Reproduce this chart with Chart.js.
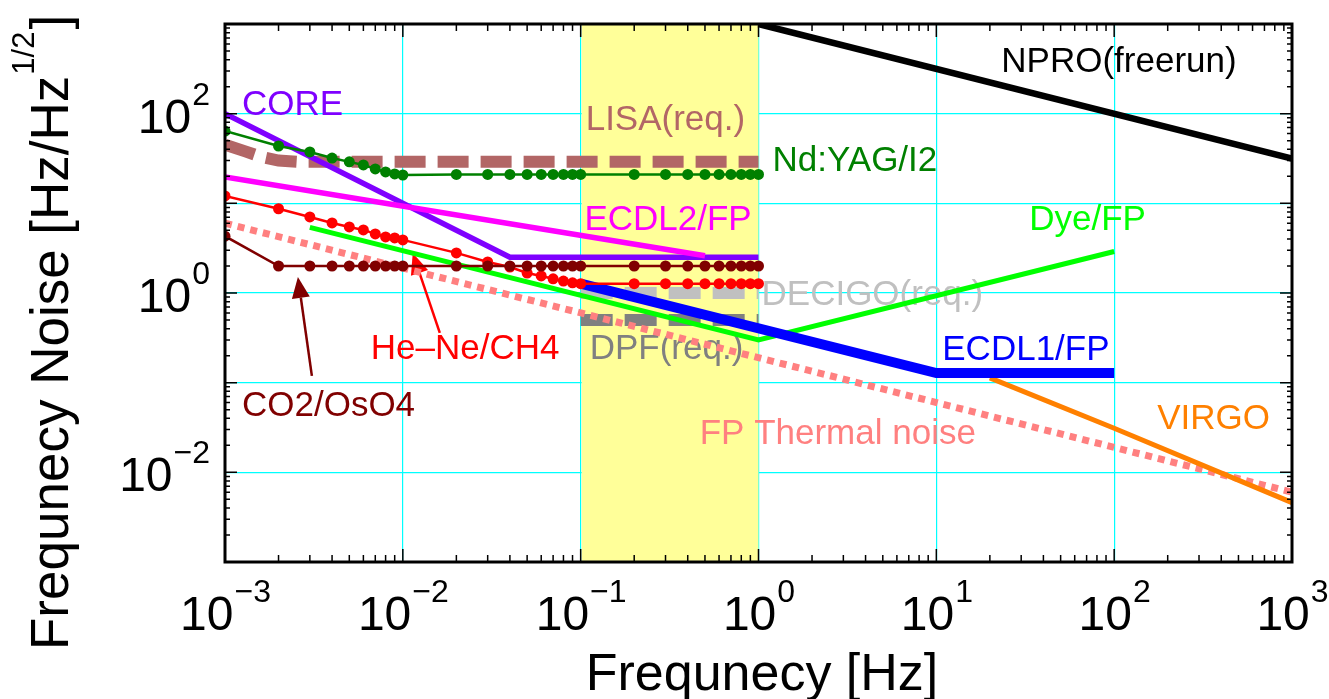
<!DOCTYPE html>
<html>
<head>
<meta charset="utf-8">
<script src="https://cdn.jsdelivr.net/npm/chart.js@4.4.1/dist/chart.umd.min.js"></script>
<style>
  html, body { margin: 0; padding: 0; background: #fff; }
  #wrap { width: 1329px; height: 699px; }
</style>
</head>
<body>
<div id="wrap"><canvas id="noiseChart" width="1329" height="699"></canvas></div>
<script>
// values: frequency [Hz] vs frequency noise [Hz/Hz^1/2]
const freqGrid = [0.001, 0.002, 0.003, 0.004, 0.005, 0.006, 0.007, 0.008, 0.009,
                  0.01, 0.02, 0.03, 0.04, 0.05, 0.06, 0.07, 0.08, 0.09,
                  0.1, 0.2, 0.3, 0.4, 0.5, 0.6, 0.7, 0.8, 0.9, 1];
const ndyagNoise = [64, 43.6, 37.4, 32, 29, 26.8, 24.2, 22.4, 21.3,
                    20.7, 21, 21, 21, 21, 21, 21, 21, 21,
                    21, 21, 21, 21, 21, 21, 21, 21, 21, 21];
const heneNoise = [12.1, 8.7, 7.05, 6.04, 5.45, 5.05, 4.56, 4.22, 4.11,
                   3.91, 2.8, 2.22, 1.95, 1.67, 1.55, 1.44, 1.36, 1.3,
                   1.27, 1.27, 1.27, 1.27, 1.27, 1.27, 1.27, 1.27, 1.27, 1.27];
const co2Noise = [4.3, 2, 2, 2, 2, 2, 2, 2, 2,
                  2, 2, 2, 2, 2, 2, 2, 2, 2,
                  2, 2, 2, 2, 2, 2, 2, 2, 2, 2];

const nproFreq = [1, 1000];
const nproNoise = [1000, 31.6];
const coreFreq = [0.001, 0.04, 1];
const coreNoise = [100, 2.5, 2.5];
const lisaFreq = [0.001, 0.0013, 0.0016, 0.002, 0.0026, 1];
const lisaNoise = [45, 38, 33, 30, 29, 29];
const ecdl2Freq = [0.001, 0.5];
const ecdl2Noise = [19.7, 2.6];
const dyeFreq = [0.003, 1, 100];
const dyeNoise = [5.4, 0.3, 2.9];
const decigoFreq = [0.1, 1];
const decigoNoise = [1, 1];
const dpfFreq = [0.1, 1];
const dpfNoise = [0.5, 0.5];
const ecdl1Freq = [0.1, 10, 100];
const ecdl1Noise = [1.27, 0.128, 0.128];
const virgoFreq = [20, 100, 1000];
const virgoNoise = [0.113, 0.031, 0.0046];
const thermalFreq = [0.001, 1000];
const thermalNoise = [6, 0.006];

const bandRange = [0.1, 1];
const xTickExps = [-3, -2, -1, 0, 1, 2, 3];
const yTickExps = [-2, 0, 2];
const xTitle = 'Frequnecy [Hz]';
const yTitle = ['Frequnecy Noise [Hz/Hz', '1/2', ']'];

const notes = [
  { text: 'NPRO(freerun)', color: '#000000', f: 23.2, n: 377 },
  { text: 'CORE', color: '#7f00ff', f: 1.246e-3, n: 125 },
  { text: 'LISA(req.)', color: '#b26666', f: 0.1067, n: 85 },
  { text: 'Nd:YAG/I2', color: '#008000', f: 1.2, n: 29.7 },
  { text: 'ECDL2/FP', color: '#ff00ff', f: 0.105, n: 6.53 },
  { text: 'Dye/FP', color: '#00ff00', f: 33.3, n: 6.53 },
  { text: 'DECIGO(req.)', color: '#c0c0c0', f: 1.04, n: 0.953 },
  { text: 'DPF(req.)', color: '#808080', f: 0.1124, n: 0.238 },
  { text: 'ECDL1/FP', color: '#0000ff', f: 10.8, n: 0.232 },
  { text: 'He\u2013Ne/CH4', color: '#ff0000', f: 0.0066, n: 0.238 },
  { text: 'CO2/OsO4', color: '#800000', f: 1.246e-3, n: 0.0551 },
  { text: 'FP Thermal noise', color: '#ff8080', f: 0.467, n: 0.0262 },
  { text: 'VIRGO', color: '#ff8000', f: 174.6, n: 0.0385 }
];
const arrows = [
  { color: '#ff0000', from: [0.01614, 0.359], to: [0.01137, 2.8] },
  { color: '#800000', from: [0.00308, 0.119], to: [0.00257, 1.51] }
];

const FONT = '"Liberation Sans", Arial, Helvetica, sans-serif';
const isDecade = v => Math.abs(Math.log10(v) - Math.round(Math.log10(v))) < 1e-9;
const pts = (xs, ys) => xs.map((x, i) => ({ x: x, y: ys[i] }));

function series(label, xs, ys, color, width, extra) {
  return Object.assign({
    label: label, data: pts(xs, ys), borderColor: color, backgroundColor: color,
    borderWidth: width, pointRadius: 0, pointHoverRadius: 0, pointBorderWidth: 0,
    fill: false, tension: 0, borderCapStyle: 'butt'
  }, extra || {});
}
const dots = { pointRadius: 5.5, pointHoverRadius: 5.5 };

// first in list is drawn on top
const datasets = [
  series('CO2/OsO4', freqGrid, co2Noise, '#800000', 2.5, dots),
  series('He-Ne/CH4', freqGrid, heneNoise, '#ff0000', 2.5, dots),
  series('Nd:YAG/I2', freqGrid, ndyagNoise, '#008000', 2.5, dots),
  series('ECDL2/FP', ecdl2Freq, ecdl2Noise, '#ff00ff', 5.5),
  series('CORE', coreFreq, coreNoise, '#7f00ff', 5.5),
  series('ECDL1/FP', ecdl1Freq, ecdl1Noise, '#0000ff', 10),
  series('Dye/FP', dyeFreq, dyeNoise, '#00ff00', 5),
  series('VIRGO', virgoFreq, virgoNoise, '#ff8000', 5),
  series('FP Thermal noise', thermalFreq, thermalNoise, '#ff8080', 7, { borderDash: [7, 6] }),
  series('DPF(req.)', dpfFreq, dpfNoise, '#808080', 12, { borderDash: [32, 12] }),
  series('DECIGO(req.)', decigoFreq, decigoNoise, '#c0c0c0', 12, { borderDash: [32, 12] }),
  series('LISA(req.)', lisaFreq, lisaNoise, '#b26666', 12, { borderDash: [31, 12] }),
  series('NPRO(freerun)', nproFreq, nproNoise, '#000000', 6.5)
];

function logTicks(scale) {
  const lo = Math.round(Math.log10(scale.min)), hi = Math.round(Math.log10(scale.max));
  const t = [];
  for (let e = lo; e < hi; e++) for (let m = 1; m <= 9; m++) t.push({ value: m * Math.pow(10, e) });
  t.push({ value: Math.pow(10, hi) });
  scale.ticks = t;
}

function powerLabel(ctx, exp, x, y, align) {
  const base = '10', sup = exp < 0 ? '\u2212' + Math.abs(exp) : String(exp);
  ctx.font = '48px ' + FONT;
  const wb = ctx.measureText(base).width;
  ctx.font = '32px ' + FONT;
  const ws = ctx.measureText(sup).width;
  const x0 = align === 'center' ? x - (wb + ws) / 2 : x - wb - ws;
  ctx.font = '48px ' + FONT;
  ctx.fillText(base, x0, y);
  ctx.font = '32px ' + FONT;
  ctx.fillText(sup, x0 + wb + 1, y - 28);
}

const decorPlugin = {
  id: 'decor',
  beforeDatasetsDraw(chart) {
    const { ctx, chartArea: a, scales: { x, y } } = chart;
    ctx.save();
    const b0 = x.getPixelForValue(bandRange[0]), b1 = x.getPixelForValue(bandRange[1]);
    ctx.fillStyle = '#ffff99';
    ctx.fillRect(b0 + 1, a.top, b1 - b0 - 1, a.bottom - a.top);

    ctx.font = '35px ' + FONT;
    ctx.textAlign = 'left';
    ctx.textBaseline = 'middle';
    notes.forEach(n => {
      ctx.fillStyle = n.color;
      ctx.fillText(n.text, x.getPixelForValue(n.f), y.getPixelForValue(n.n));
    });

    arrows.forEach(ar => {
      const x0 = x.getPixelForValue(ar.from[0]), y0 = y.getPixelForValue(ar.from[1]);
      const x1 = x.getPixelForValue(ar.to[0]), y1 = y.getPixelForValue(ar.to[1]);
      const ang = Math.atan2(y1 - y0, x1 - x0);
      const hl = 21, hw = 9;
      ctx.strokeStyle = ar.color; ctx.fillStyle = ar.color; ctx.lineWidth = 2.5;
      ctx.beginPath();
      ctx.moveTo(x0, y0);
      ctx.lineTo(x1 - hl * Math.cos(ang), y1 - hl * Math.sin(ang));
      ctx.stroke();
      ctx.beginPath();
      ctx.moveTo(x1, y1);
      ctx.lineTo(x1 - hl * Math.cos(ang) + hw * Math.sin(ang), y1 - hl * Math.sin(ang) - hw * Math.cos(ang));
      ctx.lineTo(x1 - hl * Math.cos(ang) - hw * Math.sin(ang), y1 - hl * Math.sin(ang) + hw * Math.cos(ang));
      ctx.closePath();
      ctx.fill();
    });
    ctx.restore();
  },
  afterDraw(chart) {
    const { ctx, chartArea: a, scales: { x, y } } = chart;
    ctx.save();
    ctx.strokeStyle = '#000';
    ctx.lineWidth = 1.5;
    ctx.beginPath();
    x.ticks.forEach(t => {
      const p = x.getPixelForValue(t.value), len = isDecade(t.value) ? 13 : 7;
      ctx.moveTo(p, a.bottom); ctx.lineTo(p, a.bottom - len);
      ctx.moveTo(p, a.top); ctx.lineTo(p, a.top + len);
    });
    y.ticks.forEach(t => {
      const p = y.getPixelForValue(t.value), len = isDecade(t.value) ? 12 : 5;
      ctx.moveTo(a.left, p); ctx.lineTo(a.left + len, p);
      ctx.moveTo(a.right, p); ctx.lineTo(a.right - len, p);
    });
    ctx.stroke();

    ctx.lineWidth = 3;
    ctx.strokeRect(a.left, a.top, a.right - a.left, a.bottom - a.top);

    ctx.fillStyle = '#000';
    ctx.textAlign = 'left';
    ctx.textBaseline = 'alphabetic';
    xTickExps.forEach(e => powerLabel(ctx, e, x.getPixelForValue(Math.pow(10, e)), a.bottom + 68, 'center'));
    yTickExps.forEach(e => powerLabel(ctx, e, a.left - 16, y.getPixelForValue(Math.pow(10, e)) + 19, 'right'));

    ctx.font = '52px ' + FONT;
    ctx.textAlign = 'center';
    ctx.fillText(xTitle, 762, 690);

    ctx.translate(68, 650);
    ctx.rotate(-Math.PI / 2);
    ctx.textAlign = 'left';
    ctx.font = '53px ' + FONT;
    ctx.fillText(yTitle[0], 0, 0);
    let w = ctx.measureText(yTitle[0]).width;
    ctx.font = '31px ' + FONT;
    ctx.fillText(yTitle[1], w + 1, -34);
    w += ctx.measureText(yTitle[1]).width + 3;
    ctx.font = '53px ' + FONT;
    ctx.fillText(yTitle[2], w, 0);
    ctx.restore();
  }
};

const gridColor = c => (c.tick && isDecade(c.tick.value)) ? '#00ffff' : 'rgba(0,0,0,0)';

new Chart(document.getElementById('noiseChart'), {
  type: 'line',
  data: { datasets: datasets },
  options: {
    responsive: false,
    animation: false,
    events: [],
    layout: { padding: { left: 225, right: 37, top: 24, bottom: 137 } },
    plugins: { legend: { display: false }, tooltip: { enabled: false } },
    scales: {
      x: {
        type: 'logarithmic', min: 1e-3, max: 1e3,
        afterBuildTicks: logTicks,
        ticks: { display: false },
        grid: { color: gridColor, lineWidth: 1.2, drawTicks: false },
        border: { display: false }
      },
      y: {
        type: 'logarithmic', min: 1e-3, max: 1e3,
        afterBuildTicks: logTicks,
        ticks: { display: false },
        grid: { color: gridColor, lineWidth: 1.2, drawTicks: false },
        border: { display: false }
      }
    }
  },
  plugins: [decorPlugin]
});
</script>
</body>
</html>
